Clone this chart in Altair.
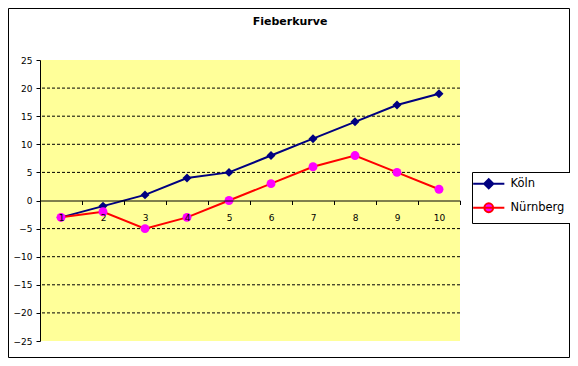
import altair as alt
import pandas as pd

categories = [1, 2, 3, 4, 5, 6, 7, 8, 9, 10]
koeln = [-3, -1, 1, 4, 5, 8, 11, 14, 17, 19]
nuernberg = [-3, -2, -5, -3, 0, 3, 6, 8, 5, 2]
series_names = ["Köln", "Nürnberg"]
line_colors = ["#000080", "#FF0000"]
marker_colors = ["#000080", "#FF00FF"]
marker_shapes = ["diamond", "circle"]
y_ticks = [-25, -20, -15, -10, -5, 0, 5, 10, 15, 20, 25]

rows = []
for c, k in zip(categories, koeln):
    rows.append({"x": c, "series": series_names[0], "value": k})
for c, n in zip(categories, nuernberg):
    rows.append({"x": c, "series": series_names[1], "value": n})
df = pd.DataFrame(rows)
grid_df = pd.DataFrame({"value": [t for t in y_ticks if t not in (-25, 0, 25)]})

FONT = "DejaVu Sans"
W, H = 420, 281

x_enc = alt.X(
    "x:O",
    sort=categories,
    scale=alt.Scale(paddingInner=0, paddingOuter=0),
    axis=alt.Axis(
        title=None, labelAngle=0, offset=-140.5, tickBand="extent", zindex=1,
        domainColor="black", tickColor="black", tickSize=4, labelPadding=9,
        labelColor="black", labelFont=FONT, labelFontSize=9,
    ),
)
y_enc = alt.Y(
    "value:Q",
    scale=alt.Scale(domain=[-25, 25], nice=False, zero=False),
    axis=alt.Axis(
        title=None, values=y_ticks, grid=False, zindex=1,
        domainColor="black", tickColor="black", tickSize=4, labelPadding=4,
        labelColor="black", labelFont=FONT, labelFontSize=9,
    ),
)

# chart frame and yellow plot area
border = alt.Chart(pd.DataFrame({"b": [0]})).mark_rect(
    fill="white", stroke="black", strokeWidth=1
).encode(
    x=alt.value(-31.5), x2=alt.value(529.5), y=alt.value(-51.5), y2=alt.value(297.5)
)
plot_bg = alt.Chart(pd.DataFrame({"b": [0]})).mark_rect(
    fill="#FFFF99", stroke=None
).encode(
    x=alt.value(0), x2=alt.value(W), y=alt.value(0), y2=alt.value(H)
)
grid = alt.Chart(grid_df).mark_rule(color="black", strokeWidth=1, strokeDash=[3, 2]).encode(y=y_enc)

layers = []
for name, lc, mc, shp in zip(series_names, line_colors, marker_colors, marker_shapes):
    base = alt.Chart(df).transform_filter(alt.datum.series == name)
    layers.append(base.mark_line(strokeWidth=2, color=lc).encode(x=x_enc, y=y_enc))
for name, lc, mc, shp in zip(series_names, line_colors, marker_colors, marker_shapes):
    base = alt.Chart(df).transform_filter(alt.datum.series == name)
    layers.append(base.mark_point(shape=shp, filled=True, size=80, opacity=1, color=mc).encode(x=x_enc, y=y_enc))

diamond_path = "M-3.9,0H3.9M0,-1.15L1.15,0L0,1.15L-1.15,0Z"
circle_path = "M-3.9,0H3.9M-1.1,0A1.1,1.1,0,1,0,1.1,0A1.1,1.1,0,1,0,-1.1,0Z"

legend = alt.Legend(
    title=None, orient="none", legendX=432, legendY=112,
    strokeColor="black", fillColor="white", padding=6,
    symbolSize=64, symbolStrokeWidth=2, symbolOffset=5,
    labelOffset=16, rowPadding=6, symbolOpacity=1,
    labelFont=FONT, labelFontSize=11.5, labelColor="black",
)

legend_layer = alt.Chart(df).transform_filter("false").mark_point(filled=True, opacity=1).encode(
    shape=alt.Shape("series:N", scale=alt.Scale(domain=series_names, range=[diamond_path, circle_path]), legend=legend),
    fill=alt.Fill("series:N", scale=alt.Scale(domain=series_names, range=marker_colors), legend=legend),
    stroke=alt.Stroke("series:N", scale=alt.Scale(domain=series_names, range=line_colors), legend=legend),
)

chart = alt.layer(border, plot_bg, grid, *layers, legend_layer).properties(
    width=W, height=H,
    padding={"left": 32, "top": 52, "right": 110, "bottom": 17},
    autosize=alt.AutoSizeParams(type="none"),
    background="white",
    title=alt.TitleParams(
        "Fieberkurve", font=FONT, fontSize=11, fontWeight="bold", color="black",
        anchor="middle", offset=0, dy=18.5, dx=40,
    ),
).configure_view(stroke=None)

chart.save("out.html", embed_options={"renderer": "svg", "actions": False})
